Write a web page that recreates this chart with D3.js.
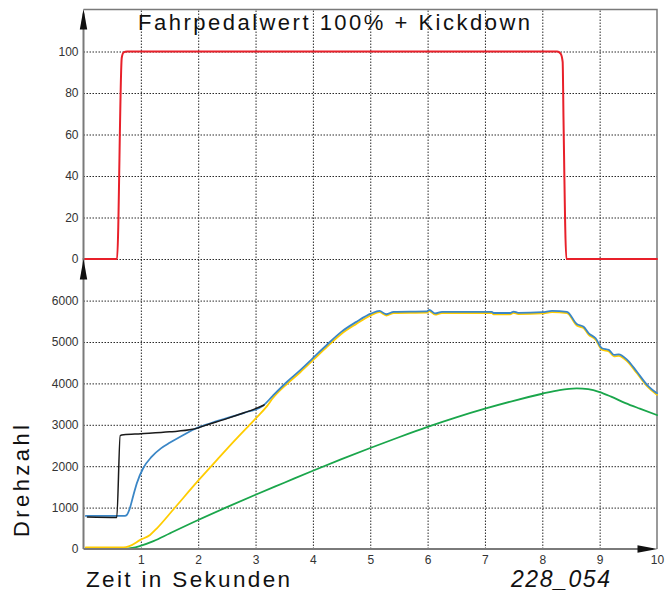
<!DOCTYPE html>
<html lang="de">
<head>
<meta charset="utf-8">
<title>Fahrpedalwert 100% + Kickdown</title>
<script src="https://cdn.jsdelivr.net/npm/d3@7/dist/d3.min.js"></script>
<style>
body { margin: 0; background: #fff; }
svg text { font-family: "Liberation Sans", Arial, Helvetica, sans-serif; }
.grid line { stroke: #2a2a2a; stroke-width: 1; stroke-dasharray: 1.5,1.5; }
.grid path { display: none; }
.labels path { display: none; }
.labels text { fill: #333; font-size: 12px; }
.curve { fill: none; stroke-linejoin: round; stroke-linecap: round; }
</style>
</head>
<body>
<svg id="chart" width="672" height="591"></svg>
<script type="text/javascript">

//////////////////////////////////////
// data  [t in s, value]
var time_ticks  = [1, 2, 3, 4, 5, 6, 7, 8, 9, 10];
var pedal_ticks = [0, 20, 40, 60, 80, 100];
var rpm_ticks   = [0, 1000, 2000, 3000, 4000, 5000, 6000];

// Fahrpedalwert in %
var pedal = [[0,0],[0.585,0],[0.667,97],[0.7,99.6],[0.76,100],[8.26,100],[8.32,99],
  [8.355,95],[8.37,67],[8.42,0],[10,0]];

// black rpm curve
var rpm_black = [[0.07,770],[0.58,760],[0.64,2740],[0.7,2760],[1.0,2785],[1.5,2830],
  [1.9,2890],[2.2,3020],[2.5,3150],[2.8,3290],[3.0,3390],[3.15,3480]];

// blue rpm curve
var rpm_blue = [[0.04,800],[0.72,800],[0.76,830],[0.8,950],[0.87,1300],[0.93,1590],
  [1.04,1950],[1.19,2230],[1.35,2430],[1.51,2570],[1.75,2760],[1.91,2880],[2.2,3030],
  [2.5,3160],[2.8,3290],[3.13,3460],[3.3,3700],[3.55,4040],[3.78,4320],[4.0,4610],
  [4.25,4940],[4.5,5250],[4.75,5480],[5.02,5690],[5.16,5750],[5.28,5670],[5.41,5730],
  [5.99,5740],[6.03,5775],[6.13,5690],[6.25,5730],[7.12,5730],[7.15,5700],[7.44,5700],
  [7.5,5735],[7.58,5705],[8.0,5720],[8.17,5750],[8.43,5730],[8.6,5435],[8.72,5370],
  [8.81,5210],[8.93,5090],[9.04,4850],[9.16,4810],[9.25,4690],[9.33,4700],[9.48,4570],
  [9.65,4280],[9.83,3960],[10,3760]];

// yellow rpm curve
var rpm_yellow = [[0.04,40],[0.7,40],[0.8,70],[0.99,220],[1.16,340],[1.28,500],
  [1.57,960],[2.0,1650],[2.32,2140],[2.61,2580],[3.0,3150],[3.2,3450],[3.3,3640],
  [3.55,3990],[3.78,4270],[4.0,4560],[4.25,4890],[4.5,5200],[4.75,5430],[5.02,5650],
  [5.16,5720],[5.28,5640],[5.41,5700],[5.99,5710],[6.03,5745],[6.13,5660],[6.25,5700],
  [7.12,5700],[7.15,5670],[7.44,5670],[7.5,5705],[7.58,5675],[8.0,5690],[8.17,5720],
  [8.43,5700],[8.6,5400],[8.72,5335],[8.81,5175],[8.93,5055],[9.04,4815],[9.16,4775],
  [9.25,4655],[9.33,4665],[9.48,4535],[9.65,4245],[9.83,3925],[10,3725]];

// green rpm curve
var rpm_green = [[0.04,10],[0.75,10],[0.85,25],[0.99,75],[1.22,190],[1.5,375],[2.0,700],
  [2.5,1010],[3.0,1310],[3.5,1600],[4.0,1890],[4.5,2170],[5.0,2440],[5.5,2700],
  [6.0,2950],[6.5,3180],[7.0,3390],[7.5,3580],[8.0,3750],[8.3,3840],[8.6,3880],
  [8.8,3860],[9.0,3790],[9.2,3680],[9.45,3525],[9.7,3390],[10,3235]];

//////////////////////////////////////
// scales
var left = 83.5, right = 657, top_y = 9.5, bottom = 549;

var x = d3.scaleLinear().domain([0, 10]).range([left, right]);
var y_pedal = d3.scaleLinear().domain([0, 100]).range([259, 51.5]);
var y_rpm = d3.scaleLinear().domain([0, 6000]).range([bottom, 300.6]);

var svg = d3.select("#chart");

//////////////////////////////////////
// grid
svg.append("g").attr("class", "grid")
  .attr("transform", "translate(0," + bottom + ")")
  .call(d3.axisBottom(x).tickValues(time_ticks.slice(0, 9))
    .tickSize(-(bottom - top_y)).tickFormat(""));

svg.append("g").attr("class", "grid")
  .attr("transform", "translate(" + left + ",0)")
  .call(d3.axisLeft(y_pedal).tickValues(pedal_ticks)
    .tickSize(-(right - left)).tickFormat(""));

svg.append("g").attr("class", "grid")
  .attr("transform", "translate(" + left + ",0)")
  .call(d3.axisLeft(y_rpm).tickValues(rpm_ticks.slice(1))
    .tickSize(-(right - left)).tickFormat(""));

//////////////////////////////////////
// tick labels
svg.append("g").attr("class", "labels")
  .attr("transform", "translate(" + left + ",0)")
  .call(d3.axisLeft(y_pedal).tickValues(pedal_ticks).tickSize(0).tickPadding(5)
    .tickFormat(d3.format("d")));

svg.append("g").attr("class", "labels")
  .attr("transform", "translate(" + left + ",0)")
  .call(d3.axisLeft(y_rpm).tickValues(rpm_ticks).tickSize(0).tickPadding(5)
    .tickFormat(d3.format("d")));

svg.append("g").attr("class", "labels")
  .attr("transform", "translate(0," + bottom + ")")
  .call(d3.axisBottom(x).tickValues(time_ticks).tickSize(0).tickPadding(6.5)
    .tickFormat(d3.format("d")));

//////////////////////////////////////
// frame
svg.append("path")
  .attr("d", "M" + left + "," + top_y + "H" + right + "V" + bottom)
  .attr("fill", "none").attr("stroke", "#7a7a7a").attr("stroke-width", 1.5);

//////////////////////////////////////
// curves
function curve(data, yscale, color, w) {
  var line = d3.line()
    .x(function(d) { return x(d[0]); })
    .y(function(d) { return yscale(d[1]); })
    .curve(d3.curveMonotoneX);
  svg.append("path").datum(data).attr("class", "curve")
    .attr("d", line).attr("stroke", color).attr("stroke-width", w);
}

curve(rpm_green, y_rpm, "#1aa64b", 1.8);
curve(rpm_yellow, y_rpm, "#ffcc00", 1.8);
curve(rpm_blue, y_rpm, "#3a86c6", 1.8);
curve(rpm_black, y_rpm, "#1a1a1a", 1.5);
curve(pedal, y_pedal, "#e8202a", 2);

//////////////////////////////////////
// axes with arrows
svg.append("line")
  .attr("x1", left).attr("x2", left).attr("y1", bottom).attr("y2", top_y + 4)
  .attr("stroke", "#7a7a7a").attr("stroke-width", 2);
svg.append("line")
  .attr("x1", left).attr("x2", right - 4).attr("y1", bottom).attr("y2", bottom)
  .attr("stroke", "#7a7a7a").attr("stroke-width", 2);

function arrow_up(tip) {
  svg.append("path")
    .attr("d", "M" + left + "," + tip + "L" + (left + 3.7) + "," + (tip + 20.5) +
      "L" + (left - 3.7) + "," + (tip + 20.5) + "Z")
    .attr("fill", "#111");
}
arrow_up(top_y - 0.5);
arrow_up(y_pedal(0));

svg.append("path")
  .attr("d", "M" + (right + 0.5) + "," + bottom + "L" + (right - 19.5) + "," + (bottom - 3.7) +
    "L" + (right - 19.5) + "," + (bottom + 3.7) + "Z")
  .attr("fill", "#111");

//////////////////////////////////////
// texts
svg.append("text").attr("x", 138).attr("y", 30)
  .attr("font-size", 22).attr("textLength", 392).attr("lengthAdjust", "spacing")
  .attr("fill", "#111").text("Fahrpedalwert 100% + Kickdown");

svg.append("text").attr("x", 86).attr("y", 587)
  .attr("font-size", 22.5).attr("textLength", 204).attr("lengthAdjust", "spacing")
  .attr("fill", "#111").text("Zeit in Sekunden");

svg.append("text").attr("x", 511).attr("y", 587)
  .attr("font-size", 23).attr("font-style", "italic")
  .attr("textLength", 99).attr("lengthAdjust", "spacing")
  .attr("fill", "#111").text("228_054");

svg.append("text")
  .attr("transform", "translate(29,537) rotate(-90)")
  .attr("font-size", 22).attr("textLength", 112).attr("lengthAdjust", "spacing")
  .attr("fill", "#111").text("Drehzahl");

</script>
</body>
</html>
